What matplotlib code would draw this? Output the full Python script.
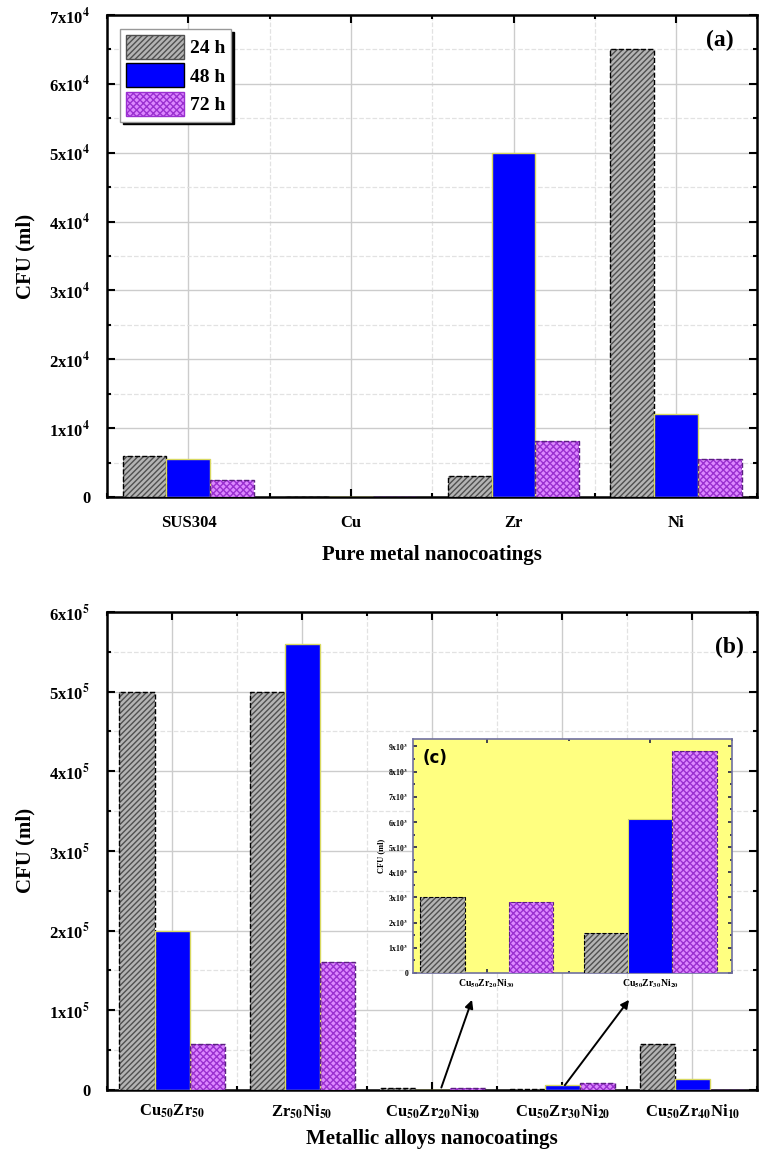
import numpy as np
import matplotlib
matplotlib.use("Agg")
import matplotlib.pyplot as plt
from matplotlib.ticker import MultipleLocator, FuncFormatter

plt.rcParams['font.family'] = 'Liberation Serif'
plt.rcParams['font.weight'] = 'bold'
plt.rcParams['mathtext.fontset'] = 'stix'
plt.rcParams['hatch.linewidth'] = 1.0

series_labels = ['24 h', '48 h', '72 h']

pure_cats = ['SUS304', 'Cu', 'Zr', 'Ni']
pure_24 = [6.0e3, 0, 3.0e3, 6.5e4]
pure_48 = [5.5e3, 0, 5.0e4, 1.2e4]
pure_72 = [2.5e3, 0, 8.2e3, 5.5e3]

alloy_cats = [r'Cu$_{\mathbf{50}}$Zr$_{\mathbf{50}}$',
              r'Zr$_{\mathbf{50}}$Ni$_{\mathbf{50}}$',
              r'Cu$_{\mathbf{50}}$Zr$_{\mathbf{20}}$Ni$_{\mathbf{30}}$',
              r'Cu$_{\mathbf{50}}$Zr$_{\mathbf{30}}$Ni$_{\mathbf{20}}$',
              r'Cu$_{\mathbf{50}}$Zr$_{\mathbf{40}}$Ni$_{\mathbf{10}}$']
alloy_24 = [5.0e5, 5.0e5, 3.0e3, 1.6e3, 5.8e4]
alloy_48 = [2.0e5, 5.6e5, 0, 6.1e3, 1.4e4]
alloy_72 = [5.8e4, 1.6e5, 2.8e3, 8.8e3, 5.0e2]

inset_idx = [2, 3]

styles = [
    dict(face='#b4b4b4', hatch='//////', hcol='#505050', edge='black', ls='--'),
    dict(face='#0000ff', hatch=None, hcol='#0000ff', edge='#d8d860', ls='-'),
    dict(face='#dd88ff', hatch='xxxxx', hcol='#9a30d0', edge='#5a2080', ls='--'),
]


def draw_bars(ax, x, vals, st, w, lw=1.0):
    ax.bar(x, vals, w, color=st['face'], hatch=st['hatch'],
           edgecolor=st['hcol'], linewidth=0, zorder=3)
    ax.bar(x, vals, w, fill=False, edgecolor=st['edge'], linestyle=st['ls'],
           linewidth=lw, zorder=4)


def sci_fmt(exp):
    def f(v, pos):
        k = int(round(v / 10 ** exp))
        if k == 0:
            return '0'
        return r'%dx10$^{\mathbf{%d}}$' % (k, exp)
    return FuncFormatter(f)


def style_axes(ax, exp, step, xpad):
    ax.yaxis.set_major_locator(MultipleLocator(step))
    ax.yaxis.set_minor_locator(MultipleLocator(step / 2))
    ax.yaxis.set_major_formatter(sci_fmt(exp))
    ax.xaxis.set_minor_locator(MultipleLocator(0.5))
    ax.grid(which='major', color='#cccccc', linewidth=1.0, zorder=0)
    ax.grid(which='minor', color='#e2e2e2', linewidth=0.9, linestyle='--', zorder=0)
    ax.set_axisbelow(True)
    ax.tick_params(which='both', direction='in', top=True, right=True,
                   labelsize=12, width=1.5)
    ax.tick_params(which='major', length=6)
    ax.tick_params(which='minor', length=3)
    ax.tick_params(axis='y', pad=12)
    ax.tick_params(axis='x', pad=xpad)
    for sp in ax.spines.values():
        sp.set_linewidth(1.8)


fig = plt.figure(figsize=(7.65, 11.62), dpi=100)
w = 0.27

# ---- (a) pure metals
ax1 = fig.add_axes([0.140, 0.5723, 0.850, 0.4148])
x = np.arange(1, len(pure_cats) + 1)
for i, (vals, st) in enumerate(zip([pure_24, pure_48, pure_72], styles)):
    draw_bars(ax1, x + (i - 1) * w, vals, st, w)
ax1.set_xlim(0.5, len(pure_cats) + 0.5)
ax1.set_ylim(0, 7e4)
style_axes(ax1, 4, 1e4, 13)
ax1.set_xticks(x)
ax1.set_xticklabels(pure_cats)
ax1.set_ylabel('CFU (ml)', fontsize=15, fontweight='bold', labelpad=10)
ax1.set_xlabel('Pure metal nanocoatings', fontsize=15, fontweight='bold', labelpad=10)
ax1.text(0.943, 0.948, '(a)', transform=ax1.transAxes, fontsize=17,
         fontweight='bold', ha='center', va='center')

handles = []
for lab, st in zip(series_labels, styles):
    p = plt.Rectangle((0, 0), 1, 1, facecolor=st['face'], hatch=st['hatch'],
                      edgecolor=st['hcol'] if st['hatch'] else 'black', linewidth=1)
    handles.append(p)
leg = ax1.legend(handles, series_labels, loc='upper left', bbox_to_anchor=(0.02, 0.971),
                 borderaxespad=0, handlelength=3.0, handleheight=1.5,
                 labelspacing=0.25, handletextpad=0.3, borderpad=0.3,
                 fancybox=False, shadow={'color': 'black', 'alpha': 1.0},
                 framealpha=1, edgecolor='#999999', prop={'weight': 'bold', 'size': 14})
leg.set_zorder(10)

# ---- (b) alloys
ax2 = fig.add_axes([0.140, 0.062, 0.850, 0.4114])
x2 = np.arange(1, len(alloy_cats) + 1)
for i, (vals, st) in enumerate(zip([alloy_24, alloy_48, alloy_72], styles)):
    draw_bars(ax2, x2 + (i - 1) * w, vals, st, w)
ax2.set_xlim(0.5, len(alloy_cats) + 0.5)
ax2.set_ylim(0, 6e5)
style_axes(ax2, 5, 1e5, 9)
ax2.set_xticks(x2)
ax2.set_xticklabels(alloy_cats)
ax2.set_ylabel('CFU (ml)', fontsize=15, fontweight='bold', labelpad=10)
ax2.set_xlabel('Metallic alloys nanocoatings', fontsize=15, fontweight='bold', labelpad=6)
ax2.text(0.957, 0.925, '(b)', transform=ax2.transAxes, fontsize=17,
         fontweight='bold', ha='center', va='center')

# ---- (c) inset
ax3 = fig.add_axes([0.540, 0.1627, 0.417, 0.2014])
ax3.set_facecolor('#ffff80')
xi = np.arange(1, len(inset_idx) + 1)
for i, (vals, st) in enumerate(zip([alloy_24, alloy_48, alloy_72], styles)):
    sub = [vals[j] for j in inset_idx]
    draw_bars(ax3, xi + (i - 1) * w, sub, st, w, lw=0.8)
ax3.set_xlim(0.55, 2.5)
ax3.set_ylim(0, 9.3e3)
ax3.yaxis.set_major_locator(MultipleLocator(1e3))
ax3.yaxis.set_minor_locator(MultipleLocator(5e2))
ax3.yaxis.set_major_formatter(sci_fmt(3))
ax3.xaxis.set_minor_locator(MultipleLocator(0.5))
ax3.set_xticks(xi)
ax3.set_xticklabels([alloy_cats[j] for j in inset_idx])
ax3.tick_params(which='both', direction='in', top=True, right=True, labelsize=5.5,
                width=1.2, color='#222244')
ax3.tick_params(which='major', length=3)
ax3.tick_params(which='minor', length=1.5)
ax3.tick_params(axis='x', labelsize=7, pad=3)
for sp in ax3.spines.values():
    sp.set_linewidth(1.2)
    sp.set_color('#7070a0')
ax3.set_ylabel('CFU (ml)', fontsize=6, fontweight='bold', labelpad=2)
ax3.text(0.03, 0.92, '(c)', transform=ax3.transAxes, fontsize=12,
         fontweight='bold', family='DejaVu Sans', ha='left', va='center')

# arrows from main bars to inset labels
for hx, tx, ty in [(0.91, 3.07, 3.0e3), (1.87, 4.02, 6.0e3)]:
    ax2.annotate('', xy=(hx, -0.115), xycoords=ax3.get_xaxis_transform(),
                 xytext=(tx, ty), textcoords='data',
                 arrowprops=dict(arrowstyle='-|>', color='black', lw=1.4,
                                 mutation_scale=12, shrinkA=0, shrinkB=0),
                 zorder=12, annotation_clip=False)

fig.savefig('out.png', dpi=100)
